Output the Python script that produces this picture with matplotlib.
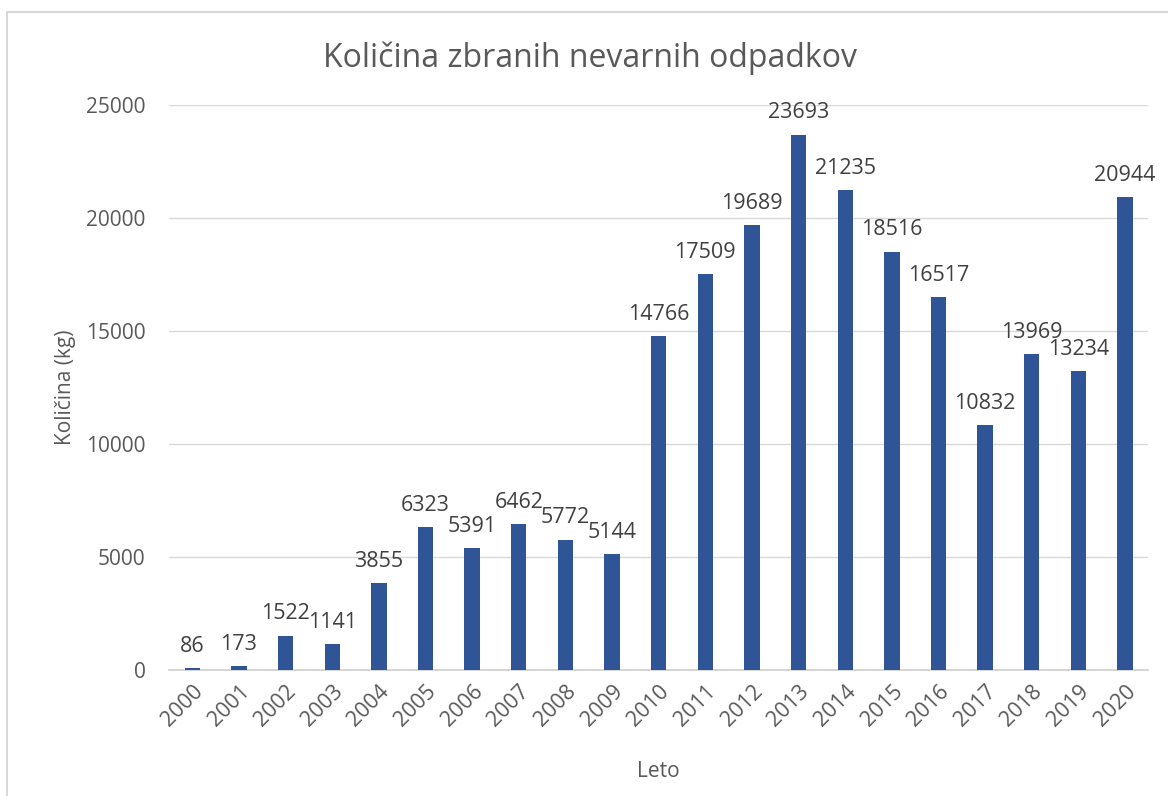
import matplotlib
matplotlib.use("Agg")
import matplotlib.pyplot as plt
from matplotlib.patches import Rectangle

years = [str(y) for y in range(2000, 2021)]
values = [86, 173, 1522, 1141, 3855, 6323, 5391, 6462, 5772, 5144,
          14766, 17509, 19689, 23693, 21235, 18516, 16517, 10832, 13969, 13234, 20944]
yticks = [0, 5000, 10000, 15000, 20000, 25000]

plt.rcParams['font.family'] = ['Open Sans', 'DejaVu Sans']
txt = '#595959'
bar_color = '#2F5597'

fig = plt.figure(figsize=(11.68, 7.96), dpi=100)
ax = fig.add_axes([0.1447, 0.1583, 0.8385, 0.7097])

x = list(range(len(years)))
ax.bar(x, values, width=0.33, color=bar_color, zorder=3)
for xi, v in zip(x, values):
    ax.annotate(str(v), (xi, v), xytext=(0, 8), textcoords='offset points',
                ha='center', va='bottom', fontsize=15.5, color='#404040')

ax.set_xlim(-0.5, 20.5)
ax.set_ylim(0, 25000)
ax.set_yticks(yticks)
ax.set_yticklabels([str(t) for t in yticks], fontsize=15, color=txt)
ax.set_xticks(x)
ax.set_xticklabels(years, rotation=45, ha='right', rotation_mode='anchor',
                   fontsize=15.5, color=txt)
ax.tick_params(axis='both', length=0)
ax.tick_params(axis='y', pad=17)
ax.tick_params(axis='x', pad=8)
ax.grid(axis='y', color='#d9d9d9', linewidth=1, zorder=0)
for s in ['top', 'right', 'left']:
    ax.spines[s].set_visible(False)
ax.spines['bottom'].set_color('#d0d0d0')
ax.spines['bottom'].set_linewidth(1.2)

ax.set_ylabel('Količina (kg)', fontsize=15, color=txt, labelpad=7)
ax.set_xlabel('Leto', fontsize=15, color=txt, labelpad=22)
fig.text(0.505, 0.927, 'Količina zbranih nevarnih odpadkov', ha='center', va='center',
         fontsize=23, color=txt)

fig.patches.append(Rectangle((0.006, -0.05), 1.2, 1.035, transform=fig.transFigure,
                             fill=False, edgecolor='#d9d9d9', linewidth=1.5))

fig.savefig('out.png', dpi=100)
